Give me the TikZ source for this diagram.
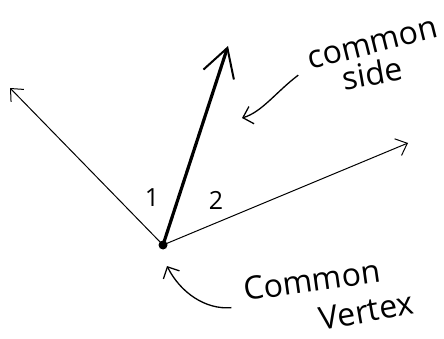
\documentclass[tikz,border=0pt]{standalone}
\usepackage{fontspec}
\setmainfont{Open Sans}
\usetikzlibrary{arrows.meta,positioning}

\begin{document}
\begin{tikzpicture}[
    x=1pt, y=-1pt,
    ray/.style={-{Straight Barb[length=10pt,width=18pt]}, line width=1pt},
    shared/.style={-{Straight Barb[length=28pt,width=32pt,line width=2pt]}, line width=3.2pt},
    pointer/.style={-{Straight Barb[length=9pt,width=18pt]}, line width=1.3pt},
    note/.style={font=\fontsize{32}{28}\selectfont, inner sep=0pt},
    anglenum/.style={font=\fontsize{25}{25}\selectfont, inner sep=0pt}
]
\useasboundingbox (0,0) rectangle (444,339);

% Vertex
\node[circle, fill=black, inner sep=0pt, minimum size=9pt] (vertex) at (163,245) {};

% Ray ends
\coordinate (lefttip) at (10,88);
\coordinate (sidetip) at (228,46);
\coordinate (righttip) at (408,143);

% Rays
\draw[ray] (vertex.center) -- (lefttip);
\draw[ray] (vertex.center) -- (righttip);
\draw[shared] (vertex.center) -- (sidetip);

% Angle numbers
\node[anglenum] (one) at (152,198) {1};
\node[anglenum] (two) at (216,200) {2};

% Labels
\node[note, rotate=14] (cs1) at (373,45) {common};
\node[note, rotate=10] (cs2) at (372,73) {side};
\node[note, rotate=8] (cv1) at (312,280) {Common};
\node[note, rotate=10] (cv2) at (366,311) {Vertex};

% Pointers
\coordinate (sidemark) at (242,118);
\coordinate (vertexmark) at (167,266);
\draw[pointer] ([xshift=-10pt,yshift=-14pt]cs1.west) .. controls (276,92) and (262,112) .. (sidemark);
\draw[pointer] ([xshift=-12pt,yshift=-18pt]cv1.west) .. controls (205,310) and (180,292) .. (vertexmark);

\end{tikzpicture}
\end{document}
